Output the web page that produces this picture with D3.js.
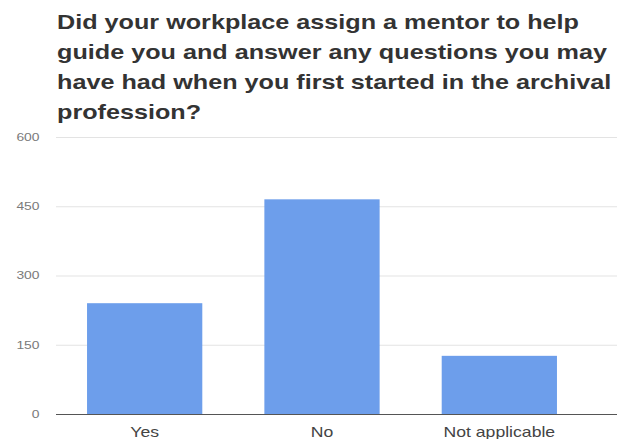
<!DOCTYPE html>
<html lang="en">
<head>
    <meta charset="UTF-8">
    <title>Mentor question</title>
    <script src="https://d3js.org/d3.v7.min.js"></script>
    <style>
        body { margin: 0; padding: 0; background: #fff; font-family: 'Liberation Sans', Arial, sans-serif; }
        .title { font-size: 20px; font-weight: bold; fill: #333; }
        .grid line { stroke: #e3e3e3; stroke-width: 1px; }
        .ytick { font-size: 11px; fill: #7a7a7a; text-anchor: end; }
        .xtick { font-size: 14px; fill: #444; text-anchor: middle; }
    </style>
</head>
<body>
<script>
    var categories = ["Yes", "No", "Not applicable"];
    var counts = [240, 465, 126];
    var yTicks = [0, 150, 300, 450, 600];
    var titleLines = [
        "Did your workplace assign a mentor to help",
        "guide you and answer any questions you may",
        "have had when you first started in the archival",
        "profession?"
    ];

    var width = 617, height = 439;
    var plot = { left: 56, right: 588, top: 137, bottom: 414 };
    var stretch = 1.26; // the source text is drawn wide

    var svg = d3.select("body").append("svg")
        .attr("width", width)
        .attr("height", height);

    var x = d3.scaleBand()
        .domain(categories)
        .range([plot.left, plot.right])
        .paddingInner(0.35)
        .paddingOuter(0.175);

    var y = d3.scaleLinear()
        .domain([0, 600])
        .range([plot.bottom, plot.top]);

    function place(px, py) {
        return "translate(" + px + "," + py + ") scale(" + stretch + ",1)";
    }

    // gridlines
    svg.append("g")
        .attr("class", "grid")
        .selectAll("line")
        .data(yTicks.slice(1))
        .enter().append("line")
        .attr("x1", plot.left)
        .attr("x2", width)
        .attr("y1", function(d) { return y(d) + 0.5; })
        .attr("y2", function(d) { return y(d) + 0.5; });

    svg.selectAll(".ytick")
        .data(yTicks)
        .enter().append("text")
        .attr("class", "ytick")
        .attr("transform", function(d) { return place(39.5, y(d)); })
        .attr("dy", "0.35em")
        .text(function(d) { return d; });

    svg.append("g")
        .selectAll("rect")
        .data(counts)
        .enter().append("rect")
        .attr("x", function(d, i) { return x(categories[i]); })
        .attr("width", x.bandwidth())
        .attr("y", function(d) { return y(d); })
        .attr("height", function(d) { return y(0) - y(d); })
        .attr("fill", "#6d9eeb");

    // baseline
    svg.append("line")
        .attr("x1", plot.left)
        .attr("x2", width)
        .attr("y1", y(0) + 0.5)
        .attr("y2", y(0) + 0.5)
        .attr("stroke", "#555")
        .attr("stroke-width", 1);

    svg.selectAll(".xtick")
        .data(categories)
        .enter().append("text")
        .attr("class", "xtick")
        .attr("transform", function(d) { return place(x(d) + x.bandwidth() / 2, 437); })
        .text(function(d) { return d; });

    svg.selectAll(".title")
        .data(titleLines)
        .enter().append("text")
        .attr("class", "title")
        .attr("transform", function(d, i) { return place(57, 29 + i * 30); })
        .text(function(d) { return d; });
</script>
</body>
</html>
